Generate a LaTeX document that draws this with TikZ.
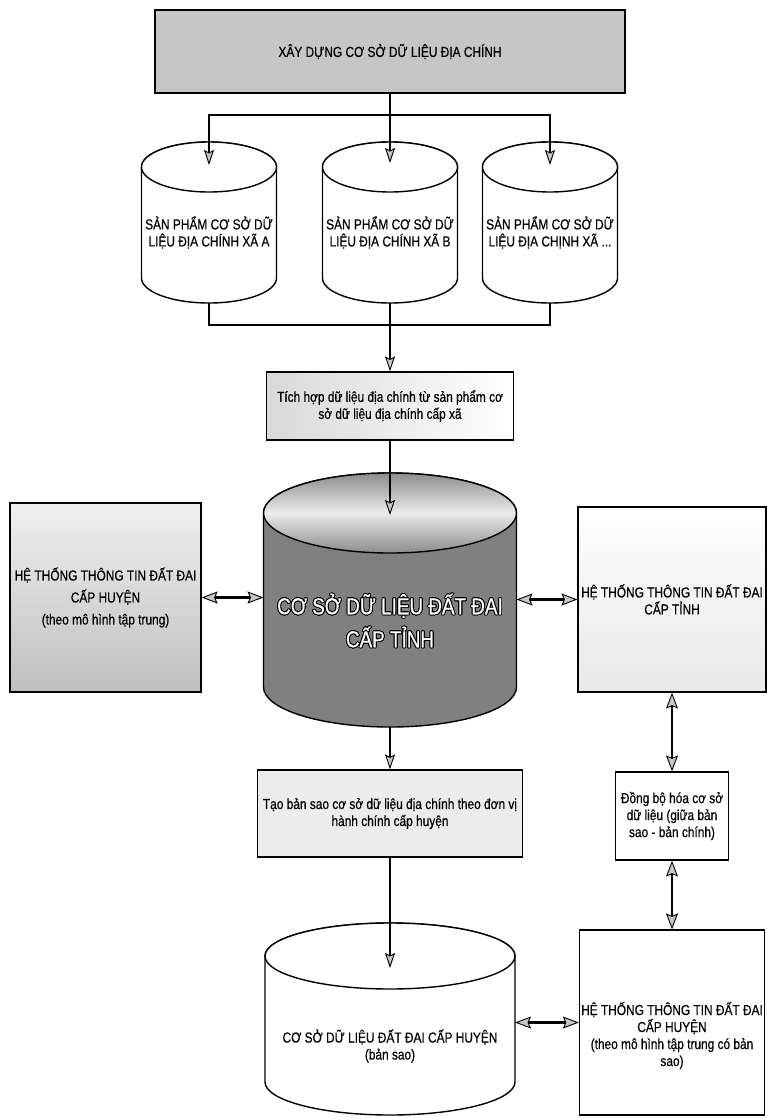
\documentclass[tikz,border=0pt]{standalone}
\usepackage{fontspec}
\setmainfont{Liberation Sans}[FakeStretch=0.82, FakeBold=0.5]
\usepackage{contour}
\contourlength{0.9pt}
\usetikzlibrary{positioning,arrows.meta,calc}

\newcommand{\txtsize}{\fontsize{14.5}{17}\selectfont}
\newcommand{\bigsize}{\fontsize{23}{33}\selectfont}
% cylinder outline round an empty node: name, x radius, y radius, body fill, top options
\newcommand{\dbshape}[5]{%
  \draw[line width=1.4pt, fill=#4] ([yshift=-#3pt]#1.north west) -- ([yshift=#3pt]#1.south west)
    arc[start angle=180, end angle=360, x radius=#2, y radius=#3]
    -- ([yshift=-#3pt]#1.north east)
    arc[start angle=0, end angle=180, x radius=#2, y radius=#3] -- cycle;
  \draw[line width=1.4pt, #5] ([yshift=-#3pt]#1.north) ellipse[x radius=#2, y radius=#3];}

\begin{document}
\begin{tikzpicture}[x=1pt, y=1pt,
    box/.style={draw, line width=1.2pt, inner sep=2pt, align=center, font=\txtsize},
    db/.style={inner sep=0pt, outer sep=0pt},
    txt/.style={align=center, font=\txtsize, inner sep=0pt},
    ln/.style={line width=1.8pt},
    arr/.style={line width=1.8pt, -{Stealth[length=15pt, width=10pt, inset=2.5pt, fill=gray!45, line width=0.9pt]}},
    dbl/.style={line width=2.4pt, {Stealth[length=16pt, width=12pt, inset=2.5pt, fill=gray!45, line width=0.9pt]}-{Stealth[length=16pt, width=12pt, inset=2.5pt, fill=gray!45, line width=0.9pt]}}]
    \useasboundingbox (0,0) rectangle (767,-1119);

    \node[box, fill=gray!45, minimum width=470pt, minimum height=83pt] (build) at (390,-51.5)
      {XÂY DỰNG CƠ SỞ DỮ LIỆU ĐỊA CHÍNH};

    \foreach \nm/\x/\ltr in {cylA/209/{XÃ A}, cylB/390/{XÃ B}} {
      \node[db, minimum width=135pt, minimum height=161pt] (\nm) at (\x,-222.5) {};
      \dbshape{\nm}{67.5}{25}{white}{fill=white}
      \node[txt] at ([yshift=-10pt]\nm.center) {SẢN PHẨM CƠ SỞ DỮ\\LIỆU ĐỊA CHÍNH \ltr};
    }
    \node[db, minimum width=135pt, minimum height=161pt] (cylC) at (550,-222.5) {};
    \dbshape{cylC}{67.5}{25}{white}{fill=white}
    \node[txt] at ([yshift=-10pt]cylC.center) {SẢN PHẨM CƠ SỞ DỮ\\LIỆU ĐỊA CHỊNH XÃ ...};

    \node[box, left color=gray!30, right color=white, minimum width=247pt, minimum height=68pt] (integ) at (390,-406)
      {Tích hợp dữ liệu địa chính từ sản phẩm cơ\\sở dữ liệu địa chính cấp xã};

    \node[db, minimum width=253pt, minimum height=254pt] (dbtinh) at (390,-600) {};
    \dbshape{dbtinh}{126.5}{40}{black!50}{top color=black!45, bottom color=black!45, middle color=black!8}
    \node[txt, font=\bigsize, text=white] at ([yshift=-21pt]dbtinh.center)
      {\contour{black}{CƠ SỞ DỮ LIỆU ĐẤT ĐAI}\\\contour{black}{CẤP TỈNH}};

    \node[box, top color=gray!12, middle color=gray!45, bottom color=gray!50, minimum width=191pt, minimum height=189pt,
      font=\fontsize{14.5}{22}\selectfont] (htHuyen) at (105.5,-597.5)
      {HỆ THỐNG THÔNG TIN ĐẤT ĐAI\\CẤP HUYỆN\\(theo mô hình tập trung)};
    \node[box, top color=white, bottom color=gray!18, minimum width=188pt, minimum height=185pt] (htTinh) at (672,-599.5)
      {HỆ THỐNG THÔNG TIN ĐẤT ĐAI\\CẤP TỈNH};

    \node[box, fill=gray!15, minimum width=265pt, minimum height=87pt] (saoBox) at (390,-813.5)
      {Tạo bản sao cơ sở dữ liệu địa chính theo đơn vị\\hành chính cấp huyện};
    \node[box, minimum width=113pt, minimum height=88pt] (sync) at (672,-816)
      {Đồng bộ hóa cơ sở\\dữ liệu (giữa bản\\sao - bản chính)};

    \node[db, minimum width=250pt, minimum height=192pt] (dbHuyen) at (390,-1019) {};
    \dbshape{dbHuyen}{125}{33}{white}{fill=white}
    \node[txt] at ([yshift=-27pt]dbHuyen.center) {CƠ SỞ DỮ LIỆU ĐẤT ĐAI CẤP HUYỆN\\(bản sao)};
    \node[box, minimum width=185pt, minimum height=185pt] (htSao) at (672,-1022.5) {};
    \node[txt] at ([yshift=-13pt]htSao.center)
      {HỆ THỐNG THÔNG TIN ĐẤT ĐAI\\CẤP HUYỆN\\(theo mô hình tập trung có bản\\sao)};

    \coordinate (fork) at (390,-115);
    \coordinate (merge) at (390,-325);
    \draw[ln] (build.south) -- (fork);
    \draw[arr] (fork) -| ([yshift=-23pt]cylA.north);
    \draw[arr] (fork) -- ([yshift=-21pt]cylB.north);
    \draw[arr] (fork) -| ([yshift=-23pt]cylC.north);
    \draw[ln] (cylA.south) |- (merge);
    \draw[ln] (cylC.south) |- (merge);
    \draw[arr] (cylB.south) -- (integ.north);
    \draw[arr] (integ.south) -- ([yshift=-42pt]dbtinh.north);
    \draw[dbl] (htHuyen.east) -- (htHuyen.east -| dbtinh.west);
    \draw[dbl] (htTinh.west -| dbtinh.east) -- (htTinh.west);
    \draw[arr] (dbtinh.south) -- (saoBox.north);
    \draw[arr] (saoBox.south) -- ([yshift=-45pt]dbHuyen.north);
    \draw[dbl] (htTinh.south) -- (sync.north);
    \draw[dbl] (sync.south) -- (htSao.north);
    \draw[dbl] (htSao.west -| dbHuyen.east) -- (htSao.west);
  \end{tikzpicture}
\end{document}
